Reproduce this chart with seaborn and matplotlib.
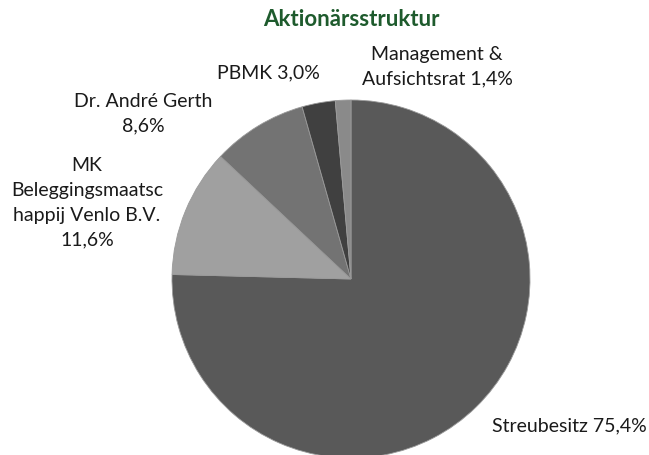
import matplotlib
matplotlib.use("Agg")
import matplotlib.pyplot as plt
import seaborn as sns

categories = ["Streubesitz", "MK\nBeleggingsmaatsc\nhappij Venlo B.V.", "Dr. André Gerth", "PBMK", "Management &\nAufsichtsrat"]
values = [75.4, 11.6, 8.6, 3.0, 1.4]
value_labels = ["Streubesitz 75,4%", "MK\nBeleggingsmaatsc\nhappij Venlo B.V.\n11,6%", "Dr. André Gerth\n8,6%", "PBMK 3,0%", "Management &\nAufsichtsrat 1,4%"]
colors = ["#595959", "#a0a0a0", "#737373", "#404040", "#8a8a8a"]
title = "Aktionärsstruktur"

sns.set_theme(style="white")
plt.rcParams['font.family'] = ['Lato', 'DejaVu Sans']

fig = plt.figure(figsize=(6.49, 4.55), dpi=100)
W, H = 649, 455
cx, cy, r = 351, 279, 179
ax = fig.add_axes([(cx - r) / W, (H - cy - r) / H, 2 * r / W, 2 * r / H])
ax.pie(values, colors=colors, startangle=90, counterclock=False, radius=1,
       wedgeprops=dict(linewidth=0.6, edgecolor="#9a9a9a"))
ax.set_xlim(-1, 1)
ax.set_ylim(-1, 1)
ax.set_aspect("equal")
ax.axis("off")

label_pos = [(569, 426), (87, 203), (143, 114), (268, 73), (437, 67)]
for txt, (px, py) in zip(value_labels, label_pos):
    ax.text((px - cx) / r, (cy - py) / r, txt, ha="center", va="center",
            fontsize=14, color="#1a1a1a", linespacing=1.55, clip_on=False)

fig.text(cx / W, 1 - 20 / H, title, ha="center", va="center", fontsize=16,
         fontweight="bold", color="#1e5b2d")

fig.savefig("out.png", dpi=100)
